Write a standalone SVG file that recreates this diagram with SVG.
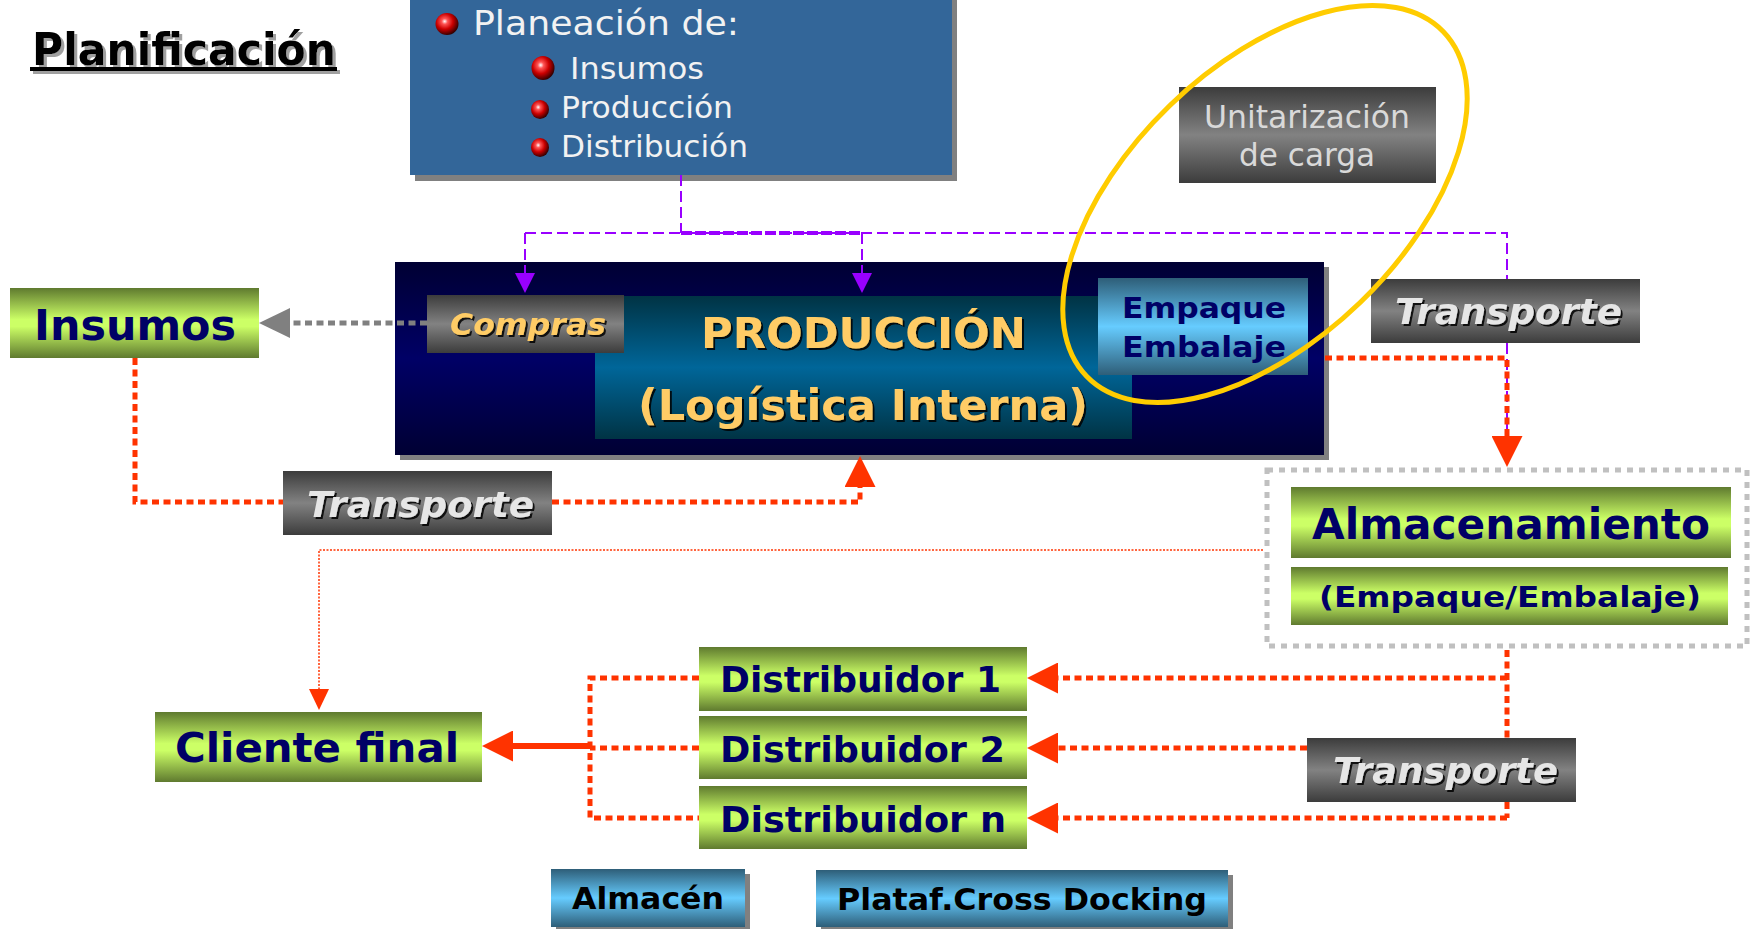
<svg xmlns="http://www.w3.org/2000/svg" width="1753" height="929" viewBox="0 0 1753 929">
<defs>
<style>
text{font-family:"DejaVu Sans",Verdana,sans-serif}
.b{font-weight:bold}
.bi{font-weight:bold;font-style:italic}
.navy{fill:#000066}
.gold{fill:#FFCC66}
.lt{fill:#E6E6E6}
.wh{fill:#F2F2F2}
.rd{fill:none;stroke:#FF3300;stroke-width:5;stroke-dasharray:7 4.5}
.pp{fill:none;stroke:#9900FF;stroke-width:2;stroke-dasharray:11 5}
.sh{fill:#808080}
</style>
<linearGradient id="gGreen" x1="0" y1="0" x2="0" y2="1">
<stop offset="0" stop-color="#5F7A2F"/><stop offset="0.45" stop-color="#CCFF66"/><stop offset="0.55" stop-color="#CCFF66"/><stop offset="1" stop-color="#5F7A2F"/>
</linearGradient>
<linearGradient id="gGray" x1="0" y1="0" x2="0" y2="1">
<stop offset="0" stop-color="#3C3C3C"/><stop offset="0.5" stop-color="#828282"/><stop offset="1" stop-color="#3C3C3C"/>
</linearGradient>
<linearGradient id="gBlue" x1="0" y1="0" x2="0" y2="1">
<stop offset="0" stop-color="#2E5E78"/><stop offset="0.5" stop-color="#66CCFF"/><stop offset="1" stop-color="#2E5E78"/>
</linearGradient>
<linearGradient id="gTeal" x1="0" y1="0" x2="0" y2="1">
<stop offset="0" stop-color="#003344"/><stop offset="0.5" stop-color="#006699"/><stop offset="1" stop-color="#003344"/>
</linearGradient>
<linearGradient id="gNavy" x1="0" y1="0" x2="0" y2="1">
<stop offset="0" stop-color="#000033"/><stop offset="0.5" stop-color="#000066"/><stop offset="1" stop-color="#000033"/>
</linearGradient>
<radialGradient id="gBall" cx="0.4" cy="0.38" r="0.65">
<stop offset="0" stop-color="#FFFFFF"/><stop offset="0.2" stop-color="#FF5555"/><stop offset="0.55" stop-color="#CC0000"/><stop offset="1" stop-color="#2A0000"/>
</radialGradient>
<filter id="tsh" x="-5%" y="-20%" width="110%" height="140%">
<feDropShadow dx="2" dy="2" stdDeviation="0.3" flood-color="#000000" flood-opacity="0.85"/>
</filter>
<filter id="tsg" x="-5%" y="-20%" width="110%" height="140%">
<feDropShadow dx="3" dy="3" stdDeviation="0.3" flood-color="#A0A0A0" flood-opacity="1"/>
</filter>
<marker id="arR" markerUnits="userSpaceOnUse" viewBox="0 0 31 31" markerWidth="31" markerHeight="31" refX="0" refY="15.5" orient="auto"><path d="M0,0 L31,15.5 L0,31 z" fill="#FF3300"/></marker>
<marker id="arRs" markerUnits="userSpaceOnUse" viewBox="0 0 21 20" markerWidth="21" markerHeight="20" refX="0" refY="10" orient="auto"><path d="M0,0 L21,10 L0,20 z" fill="#FF3300"/></marker>
<marker id="arG" markerUnits="userSpaceOnUse" viewBox="0 0 31 30" markerWidth="31" markerHeight="30" refX="0" refY="15" orient="auto"><path d="M0,0 L31,15 L0,30 z" fill="#808080"/></marker>
<marker id="arP" markerUnits="userSpaceOnUse" viewBox="0 0 20 20" markerWidth="20" markerHeight="20" refX="0" refY="10" orient="auto"><path d="M0,0 L20,10 L0,20 z" fill="#9900FF"/></marker>
</defs>
<rect x="0" y="0" width="1753" height="929" fill="#FFFFFF"/>

<g id="title">
<g filter="url(#tsg)">
<text x="32" y="65" class="b" font-size="44" fill="#000000" textLength="304" lengthAdjust="spacingAndGlyphs">Planificación</text>
<rect x="30" y="67" width="307" height="4" fill="#000000"/>
</g>
</g>

<g id="planeacion">
<rect x="415" y="-10" width="542" height="191" class="sh"/>
<rect x="410" y="-10" width="542" height="185" fill="#336699"/>
<ellipse cx="447" cy="24" rx="11.5" ry="11" fill="url(#gBall)"/>
<ellipse cx="543" cy="68" rx="11.5" ry="12" fill="url(#gBall)"/>
<ellipse cx="540" cy="109.5" rx="9" ry="9.5" fill="url(#gBall)"/>
<ellipse cx="540" cy="147.5" rx="9" ry="9.5" fill="url(#gBall)"/>
<text x="473" y="35" font-size="34" class="wh" textLength="266" lengthAdjust="spacingAndGlyphs">Planeación de:</text>
<text x="570" y="79" font-size="30" class="wh" textLength="134" lengthAdjust="spacingAndGlyphs">Insumos</text>
<text x="561" y="118" font-size="30" class="wh" textLength="172" lengthAdjust="spacingAndGlyphs">Producción</text>
<text x="561" y="157" font-size="30" class="wh" textLength="187" lengthAdjust="spacingAndGlyphs">Distribución</text>
</g>

<g id="unitarizacion">
<rect x="1179" y="87" width="257" height="96" fill="url(#gGray)"/>
<text x="1204" y="128" font-size="32" fill="#D9D9D9" textLength="206" lengthAdjust="spacingAndGlyphs">Unitarización</text>
<text x="1239" y="166" font-size="32" fill="#D9D9D9" textLength="136" lengthAdjust="spacingAndGlyphs">de carga</text>
</g>

<g id="produccion">
<rect x="400" y="267" width="929" height="193" class="sh"/>
<rect x="395" y="262" width="929" height="193" fill="url(#gNavy)"/>
<rect x="595" y="296" width="537" height="143" fill="url(#gTeal)"/>
<g filter="url(#tsh)">
<text x="701" y="348" class="b gold" font-size="42" textLength="325" lengthAdjust="spacingAndGlyphs">PRODUCCIÓN</text>
<text x="638" y="420" class="b gold" font-size="42" textLength="450" lengthAdjust="spacingAndGlyphs">(Logística Interna)</text>
</g>
</g>

<g id="compras">
<rect x="427" y="295" width="197" height="58" fill="url(#gGray)"/>
<text x="450" y="335" class="bi gold" font-size="30" filter="url(#tsh)" textLength="156" lengthAdjust="spacingAndGlyphs">Compras</text>
</g>

<g id="empaque">
<rect x="1098" y="278" width="210" height="97" fill="url(#gBlue)"/>
<text x="1122" y="318" class="b navy" font-size="29" textLength="164" lengthAdjust="spacingAndGlyphs">Empaque</text>
<text x="1122" y="357" class="b navy" font-size="29" textLength="164" lengthAdjust="spacingAndGlyphs">Embalaje</text>
</g>

<g id="insumos">
<rect x="10" y="288" width="249" height="70" fill="url(#gGreen)"/>
<text x="34" y="340" class="b navy" font-size="42" textLength="202" lengthAdjust="spacingAndGlyphs">Insumos</text>
</g>

<g id="transporte-1">
<rect x="283" y="471" width="269" height="64" fill="url(#gGray)"/>
<text x="307" y="517" class="bi lt" font-size="36" filter="url(#tsh)" textLength="227" lengthAdjust="spacingAndGlyphs">Transporte</text>
</g>

<g id="transporte-2">
<rect x="1371" y="279" width="269" height="64" fill="url(#gGray)"/>
<text x="1395" y="324" class="bi lt" font-size="36" filter="url(#tsh)" textLength="227" lengthAdjust="spacingAndGlyphs">Transporte</text>
</g>

<g id="almacenamiento">
<rect x="1267" y="470" width="480" height="176" fill="none" stroke="#C0C0C0" stroke-width="5" stroke-dasharray="6 6"/>
<rect x="1291" y="487" width="440" height="71" fill="url(#gGreen)"/>
<text x="1312" y="539" class="b navy" font-size="42" textLength="398" lengthAdjust="spacingAndGlyphs">Almacenamiento</text>
<rect x="1291" y="567" width="437" height="58" fill="url(#gGreen)"/>
<text x="1319" y="607" class="b navy" font-size="28" textLength="382" lengthAdjust="spacingAndGlyphs">(Empaque/Embalaje)</text>
</g>

<g id="cliente-final">
<rect x="155" y="712" width="327" height="70" fill="url(#gGreen)"/>
<text x="175" y="762" class="b navy" font-size="40" textLength="284" lengthAdjust="spacingAndGlyphs">Cliente final</text>
</g>

<g id="distribuidor-1">
<rect x="699" y="647" width="328" height="64" fill="url(#gGreen)"/>
<text x="720" y="692" class="b navy" font-size="35" textLength="281" lengthAdjust="spacingAndGlyphs">Distribuidor 1</text>
</g>
<g id="distribuidor-2">
<rect x="699" y="716" width="328" height="63" fill="url(#gGreen)"/>
<text x="720" y="762" class="b navy" font-size="35" textLength="285" lengthAdjust="spacingAndGlyphs">Distribuidor 2</text>
</g>
<g id="distribuidor-n">
<rect x="699" y="786" width="328" height="63" fill="url(#gGreen)"/>
<text x="720" y="832" class="b navy" font-size="35" textLength="286" lengthAdjust="spacingAndGlyphs">Distribuidor n</text>
</g>

<g id="transporte-3">
<rect x="1307" y="738" width="269" height="64" fill="url(#gGray)"/>
<text x="1333" y="783" class="bi lt" font-size="36" filter="url(#tsh)" textLength="225" lengthAdjust="spacingAndGlyphs">Transporte</text>
</g>

<g id="almacen">
<rect x="556" y="874" width="194" height="58" class="sh"/>
<rect x="551" y="869" width="194" height="58" fill="url(#gBlue)"/>
<text x="572" y="909" class="b" font-size="30" fill="#000000" textLength="152" lengthAdjust="spacingAndGlyphs">Almacén</text>
</g>

<g id="plataf-cross-docking">
<rect x="821" y="875" width="412" height="57" class="sh"/>
<rect x="816" y="870" width="412" height="57" fill="url(#gBlue)"/>
<text x="837" y="910" class="b" font-size="31" fill="#000000" textLength="370" lengthAdjust="spacingAndGlyphs">Plataf.Cross Docking</text>
</g>

<g id="connectors">
<path class="pp" d="M681,175 V233"/>
<path class="pp" d="M525,233 H1507 V279"/>
<path d="M681,233 H862" fill="none" stroke="#9900FF" stroke-width="4" stroke-dasharray="11 3"/>
<path class="pp" d="M1507,343 V440"/>
<path class="pp" d="M525,233 V273" marker-end="url(#arP)"/>
<path class="pp" d="M862,233 V273" marker-end="url(#arP)"/>
<path d="M427,323 H290" fill="none" stroke="#808080" stroke-width="5" stroke-dasharray="7 4.5" marker-end="url(#arG)"/>
<path class="rd" d="M135,358 V502 H283"/>
<path class="rd" d="M552,502 H860 V487" marker-end="url(#arR)"/>
<path class="rd" d="M1325,358 H1507 V436" marker-end="url(#arR)"/>
<path d="M1263,550 H319 V689" fill="none" stroke="#FF3300" stroke-width="1.5" stroke-dasharray="2 1.5" marker-end="url(#arRs)"/>
<path class="rd" d="M1507,650 V738"/>
<path class="rd" d="M1507,802 V818"/>
<path class="rd" d="M1507,678 H1058" marker-end="url(#arR)"/>
<path class="rd" d="M1307,748 H1058" marker-end="url(#arR)"/>
<path class="rd" d="M1507,818 H1058" marker-end="url(#arR)"/>
<path class="rd" d="M699,678 H590 V818 H699"/>
<path class="rd" d="M699,748 H590"/>
<path d="M592,746 H513" fill="none" stroke="#FF3300" stroke-width="6" marker-end="url(#arR)"/>
</g>

<g id="highlight">
<ellipse cx="1265" cy="204" rx="248" ry="137" transform="rotate(-44 1265 204)" fill="none" stroke="#FFCC00" stroke-width="5"/>
</g>
</svg>
